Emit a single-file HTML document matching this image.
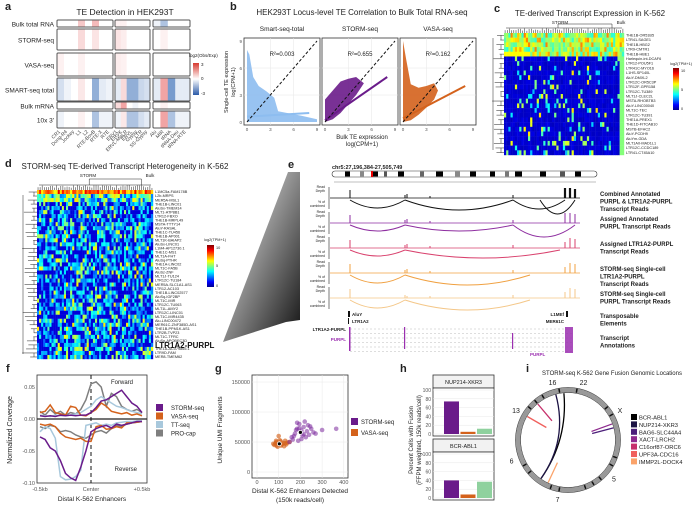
<!DOCTYPE html>
<html><head><meta charset="utf-8"><style>
body{margin:0;background:#fff}
svg{display:block;font-family:"Liberation Sans",sans-serif}
</style></head><body>
<svg id="s" width="700" height="508" viewBox="0 0 700 508" xmlns="http://www.w3.org/2000/svg">
<defs>
<linearGradient id="tri" x1="0" y1="0" x2="1" y2="1"><stop offset="0" stop-color="#fff"/><stop offset="1" stop-color="#111"/></linearGradient>
<linearGradient id="jet" x1="0" y1="1" x2="0" y2="0"><stop offset="0" stop-color="#00008f"/><stop offset=".12" stop-color="#0000ff"/><stop offset=".37" stop-color="#00ffff"/><stop offset=".62" stop-color="#ffff00"/><stop offset=".87" stop-color="#ff0000"/><stop offset="1" stop-color="#800000"/></linearGradient>
<linearGradient id="rb" x1="0" y1="1" x2="0" y2="0"><stop offset="0" stop-color="#2b5aa8"/><stop offset=".5" stop-color="#fff"/><stop offset="1" stop-color="#d73a2f"/></linearGradient>
</defs>
<g id="root"></g>
</svg>
<script>
// ---------- data arrays ----------
const aRowNames=["Bulk total RNA","STORM-seq","VASA-seq","SMART-seq total","Bulk mRNA","10x 3'"];
const aRowTop=[20,29,53,78,102,111];
const aRowBot=[27,50,76,101,109,128];
const aG1=[[0,0,0,1.2,0,1.5,0,0],[0,0,0,.8,0,.6,0,0],[.3,0,0,.3,0,0,0,0],[-.8,-.3,0,.5,0,-2,-.5,-.3],[0,0,0,0,0,0,0,0],[-.3,0,0,.3,0,-1.5,-.3,-.3]];
const aG2=[[.3,.3,0,0,0,0],[.6,.4,0,0,0,0],[.4,.3,0,0,0,0],[-.5,.8,-2,-2,-1,-.8],[.8,2,0,-.3,0,0],[-.3,.5,-1.5,-1.5,-.8,-.5]];
const aG3=[[-.3,-1.5,0,0,0],[0,.3,0,0,0],[0,0,0,0,0],[-.5,2,-2.5,-.5,-.5],[0,.3,0,0,0],[0,2,-1.5,-.3,-.3]];
const aColLabels=["CR1","Dong-R4","Jockey","L1","L2","RTE-BovB","RTE-X","RTE","ERV1","ERVK","ERVL-MaLR","ERVL","Gypsy","LTR","SS-Gypsy","Alu","MIR","tRNA","tRNA-Deu","tRNA-RTE"];
const bTitles=["Smart-seq-total","STORM-seq","VASA-seq"];
const bR2=["R²=0.003","R²=0.655","R²=0.162"];
const bSlope=[0.05,0.6,0.45];
const bInt=[0.6,0.2,0.4];
const cLabels=["THE1B-OR51B5","LTR41-SAGE1","THE1B-HBG2","LTR9-CMTR1","THE1B-HBE1","Harlequin-int-DCAF6","LTR12-POU5F1","LTR41C-MYO16","L1HS-SP140L","AluY-DMXL2","LTR12C-OR5C3P","LTR12F-GPR158","LTR12C-TU389","MLT1J-CLEC2L","MSTA-RHOBTB3","AluY-LINC00040","MLT1C-TEC","LTR12C-TU391","THE1A-PREX1","THE1D-FITCAB10","MSTB-EFHC2","AluY-PCDH9","AluYm-GDA","MLT1A0-MAD1L1","LTR12C-CCDC189","LTR41-CT45A10"];
const dLabels=["L1MC5a-FAM178B","L2b-MRPS","MER5A-MSL1","THE1B-LINC01","AluSx-TMEM14","MLT1-ATP8B1","LTR12-FBXO","THE1B-MRPL49","MSTA-TTTY14","AluY-RASAL","THE1C-TU456","THE1B-AP001","MLT1K-BAIAP2","AluSx-LINC01","L1M4-AP12730.1","THE1C-MS1","MLT1A-FHT","AluSq-PTHR","THE1A-LINC02","MLT1C-FA5B","AluSz-ZNF","MLT1J-TU124","LTR12C-TU184","MER5A-SLC1A1-AS1","LTR12-AC103","THE1B-LINC02577","AluSq-IGF2BP","MLT1C-MIR","LTR12C-TU063","MLT1L-AMY2","LTR12C-LINC01","MLT1C-MIR4435","Alu-LINC00472","MER61C-ZNF385D-AS1","THE1B-PPM1K-AS1","LTR2B-TVP23","MLT1C-TFRC","AluSp-APOBEC3D","LTR1A2-PURPL","THE1A-AC079865.1","LTR9D-FAM","MER8-TMEM62"];
const fX=[-.5,-.45,-.4,-.35,-.3,-.25,-.2,-.15,-.1,-.05,0,.05,.1,.15,.2,.25,.3,.35,.4,.45,.5];
const fStormF=[.005,.004,.005,.004,.006,.005,.006,.005,.006,.006,.01,.018,.028,.03,.035,.04,.045,.035,.025,.02,.01];
const fVasaF=[.01,.012,.022,.01,.008,.006,.02,.018,.006,.005,.01,.015,.025,.02,.012,.01,.008,.01,.006,.008,.005];
const fTTF=[.006,.005,.004,.006,.005,.005,.006,.008,.01,.015,.02,.03,.035,.03,.025,.02,.018,.015,.012,.01,.008];
const fProF=[.012,.006,.015,.008,.012,.006,.01,.008,.015,.03,.055,.058,.05,.02,.04,.035,.02,.015,.012,.015,.01];
const fStormR=[-.028,-.032,-.045,-.05,-.065,-.085,-.092,-.096,-.075,-.05,-.02,-.015,-.012,-.01,-.014,-.008,-.01,-.008,-.006,-.004,-.004];
const fVasaR=[-.008,-.01,-.008,-.012,-.022,-.028,-.03,-.032,-.03,-.035,-.035,-.012,-.01,-.016,-.015,-.012,-.014,-.006,-.006,-.005,-.004];
const fTTR=[-.02,-.012,-.015,-.03,-.09,-.095,-.094,-.09,-.08,-.01,-.008,-.006,-.01,-.008,-.01,-.006,-.005,-.004,-.004,-.003,-.003];
const fProR=[-.012,-.015,-.01,-.012,-.02,-.018,-.02,-.025,-.028,-.03,-.025,-.02,-.018,-.022,-.015,-.01,-.012,-.008,-.006,-.005,-.004];
const gStormX=[200,170,185,215,230,240,195,205,160,180,250,220,175,190,210,235,260,165,300,365,225,245,185,205,215,195,150,270];
const gStormY=[66000,60000,72000,75000,68000,62000,80000,55000,58000,70000,72000,84000,64000,52000,61000,78000,66000,54000,70000,72000,58000,76000,82000,69000,63000,73000,50000,64000];
const gVasaX=[100,80,90,110,120,130,95,105,85,115,140,75,125,100,90,110,135,150,88,130];
const gVasaY=[47000,45000,50000,44000,48000,52000,42000,53000,48000,46000,49000,47000,43000,60000,44000,51000,46000,50000,52000,48000];
const gMean=[[200,66000],[103,47000]];
const hCats=["STORM-seq","VASA-seq","TT-seq"];
const hNup=[74,5,12];
const hBcr=[40,8,37];
const iNames=["BCR-ABL1","NUP214-XKR3","BAG6-SLC44A4","XACT-LRCH2","C16orf87-ORC6","UPF3A-CDC16","IMMP2L-DOCK4"];
const iCols=["#000000","#1c1344","#4b1f7a","#8e2a8e","#c6306b","#f0605d","#fba36a"];
const iA1=[-5,-15,75,70,-40,-60,205];
const iA2=[215,215,60,100,-20,-25,190];

// ---------- helpers ----------
const NS="http://www.w3.org/2000/svg";
const root=document.getElementById('root');
function mk(tag,attrs,parent){const e=document.createElementNS(NS,tag);for(const k in attrs)e.setAttribute(k,attrs[k]);(parent||root).appendChild(e);return e;}
function txt(x,y,s,size,opts){const o=Object.assign({x:x,y:y,'font-size':size,fill:'#222'},opts||{});const e=mk('text',o);e.textContent=s;return e;}
function jet(v){v=Math.max(0,Math.min(1,v));const st=[[0,0,0,143],[.12,0,0,255],[.37,0,255,255],[.62,255,255,0],[.87,255,0,0],[1,128,0,0]];for(let i=1;i<st.length;i++){if(v<=st[i][0]){const a=st[i-1],b=st[i],t=(v-a[0])/(b[0]-a[0]);return `rgb(${Math.round(a[1]+t*(b[1]-a[1]))},${Math.round(a[2]+t*(b[2]-a[2]))},${Math.round(a[3]+t*(b[3]-a[3]))})`;}}}
function rb(v){const t=Math.max(-1,Math.min(1,v/3.5));if(t>=0){return `rgb(${Math.round(255-t*25)},${Math.round(255-t*160)},${Math.round(255-t*160)})`;}const u=-t;return `rgb(${Math.round(255-u*190)},${Math.round(255-u*140)},${Math.round(255-u*70)})`;}
function hash(a,b,s){let h=(a*374761393+b*668265263+s*982451653)|0;h=(h^(h>>>13))*1274126177|0;return ((h^(h>>>16))>>>0)/4294967295;}

// ---------- panel labels ----------
[["a",5,10],["b",230,10],["c",494,12],["d",5,167],["e",288,168],["f",6,372],["g",215,372],["h",400,372],["i",526,372]].forEach(p=>{const t=txt(p[1],p[2],p[0],11,{'font-weight':'bold'});});

// ---------- panel a ----------
let t=txt(125,15,"TE Detection in HEK293T",8.5,{'text-anchor':'middle'});
const aGroups=[[aG1,57,113],[aG2,115,150],[aG3,153,190]];
aRowNames.forEach((n,r)=>{
  const lab=txt(54,(aRowTop[r]+aRowBot[r])/2+3,n,6.5,{'text-anchor':'end'});
  
  aGroups.forEach((g,gi)=>{
    const vals=g[0][r];const w=(g[2]-g[1])/vals.length;
    vals.forEach((v,c)=>{const e=mk('rect',{x:g[1]+c*w,y:aRowTop[r],width:w+.3,height:aRowBot[r]-aRowTop[r],fill:rb(v)});});
    const b=mk('rect',{x:g[1],y:aRowTop[r],width:g[2]-g[1],height:aRowBot[r]-aRowTop[r],fill:'none',stroke:'#555','stroke-width':1,rx:1});
  });
});
aColLabels.forEach((n,i)=>{const xs=[57,113,115,150,153,190];const gi=i<8?0:(i<15?1:2);const cnt=[8,7,5][gi];const idx=i-[0,8,15][gi];const x=xs[gi*2]+(idx+.5)*(xs[gi*2+1]-xs[gi*2])/cnt;
 const e=txt(x,132,n,5,{'text-anchor':'end',transform:`rotate(-45 ${x} 132)`,fill:'#444'});});
mk('rect',{x:193,y:63,width:6,height:32,fill:'url(#rb)'});
txt(189,57,"log2(Obs/Exp)",4.5,{});txt(201,66,"3",4.5,{});txt(201,80,"0",4.5,{});txt(201,95,"-3",4.5,{});

// ---------- panel b ----------
t=txt(362,15,"HEK293T Locus-level TE Correlation to Bulk Total RNA-seq",8,{'text-anchor':'middle'});
const bCols=["#8dbdf0","#6a1b8a","#d4621c"];
const bX0=[244,322,400];
for(let p=0;p<3;p++){
  const X0=bX0[p],W=76,Y0=38,H=87;
  const xs=v=>X0+3+v*(W-6)/9, ys=v=>Y0+H-3-v*(H-6)/9;
  txt(X0+W/2,31,bTitles[p],6.5,{'text-anchor':'middle'});
  mk('rect',{x:X0,y:Y0,width:W,height:H,fill:'#fff',stroke:'#333','stroke-width':.8});
  [3,6].forEach(v=>{mk('line',{x1:xs(v),x2:xs(v),y1:Y0,y2:Y0+H,stroke:'#e6e6e6','stroke-width':.5});mk('line',{x1:X0,x2:X0+W,y1:ys(v),y2:ys(v),stroke:'#e6e6e6','stroke-width':.5});});
  let pts;
  if(p===0) pts=[[0,0],[0,8],[.3,7.5],[.8,5],[1.5,4],[2.5,3.4],[3.5,2.7],[4,1.2],[7,.7],[9,.3],[9,0]];
  else if(p===1) pts=[[0,0],[0,2.5],[1,3.5],[2,4.5],[3,4.8],[4,5],[5,4.3],[4,3],[3,2],[2,1],[1,.3]];
  else pts=[[0,0],[0,9],[.4,7],[1,4.2],[2,3.8],[3,4],[4,4.3],[4.5,3.5],[4,2.5],[3,1.6],[2,.8],[1,.2]];
  const cl=mk('polygon',{points:pts.map(q=>xs(q[0])+','+ys(q[1])).join(' '),fill:bCols[p],opacity:.9});
  const ln=mk('line',{x1:xs(0),y1:ys(bInt[p]),x2:xs(8),y2:ys(bInt[p]+8*bSlope[p]),stroke:bCols[p],'stroke-width':2});
  mk('line',{x1:xs(0),y1:ys(0),x2:xs(9),y2:ys(9),stroke:'#111','stroke-width':1,'stroke-dasharray':'3,2'});
  txt(X0+W/2,Y0+18,bR2[p],6,{'text-anchor':'middle'});
  [0,3,6,9].forEach(v=>txt(xs(v),Y0+H+6,String(v),4.5,{'text-anchor':'middle',fill:'#555'}));
  if(p===0)[0,3,6,9].forEach(v=>txt(X0-2,ys(v)+2,String(v),4.5,{'text-anchor':'end',fill:'#555'}));
}
txt(228,82,"Single-cell TE expression",5.5,{'text-anchor':'middle',transform:'rotate(-90 228 82)'});
txt(235,82,"log(CPM+1)",5.5,{'text-anchor':'middle',transform:'rotate(-90 235 82)'});
txt(362,139,"Bulk TE expression",6,{'text-anchor':'middle'});txt(362,146,"log(CPM+1)",6,{'text-anchor':'middle'});

// ---------- heatmap helper ----------
function heat(x0,y0,w,h,nr,nc,fn,name){
  const cw=w/nc,rh=h/nr;
  for(let r=0;r<nr;r++)for(let c=0;c<nc;c++){const e=mk('rect',{x:x0+c*cw,y:y0+r*rh,width:cw+.2,height:rh+.2,fill:jet(fn(r,c))});}
}
function dendroLeft(x0,x1,y0,h,n){const rh=h/n;let d='';for(let r=0;r<n;r++){const y=y0+(r+.5)*rh;d+=`M${x1},${y}H${x1-3-hash(r,1,3)*(x1-x0-3)}`;}for(let r=0;r<n-1;r+=2){const y=y0+(r+.5)*rh;d+=`M${x1-3},${y}V${y+rh}`;}d+=`M${x0+1},${y0+5}V${y0+h-5}`;mk('path',{d:d,stroke:'#222','stroke-width':.5,fill:'none'});}
function dendroTop(x0,y0,w,y1,n){const cw=w/n;let d='';for(let c=0;c<n;c++){const x=x0+(c+.5)*cw;d+=`M${x},${y1}V${y1-2-hash(c,2,5)*3}`;}d+=`M${x0+2},${y1-5}H${x0+w-2}M${x0+w*.45},${y1-5}V${y0}H${x0+w*.9}V${y1-5}`;mk('path',{d:d,stroke:'#222','stroke-width':.5,fill:'none'});}

// ---------- panel c ----------
t=txt(590,16,"TE-derived Transcript Expression in K-562",8,{'text-anchor':'middle'});
txt(560,24,"STORM",4.5,{'text-anchor':'middle'});txt(621,24,"Bulk",4.5,{'text-anchor':'middle'});
dendroTop(504,24,120,33,55);
dendroLeft(492,504,33,122,26);
heat(504,33,120,122,26,55,(r,c)=>{const hv=hash(r,c,7);if(r<5){return r===4&&c<12?.62:(hv<.5?.5+hv*.5:.25+hv*.3);}if(c>52)return .5;return hv<.87?0.05+hv*.05:.3+hash(c,r,9)*.35;},'c-heat');
cLabels.forEach((n,i)=>{const e=txt(626,33+(i+.75)*122/26,n,3.8,{});});
mk('rect',{x:673,y:68,width:6,height:42,fill:'url(#jet)'});txt(670,65,"log2(TPM+1)",3.8,{});txt(681,72,"10",3.8,{});txt(681,91,"5",3.8,{});txt(681,110,"0",3.8,{});

// ---------- panel d ----------
t=txt(125,169,"STORM-seq TE-derived Transcript Heterogeneity in K-562",8,{'text-anchor':'middle'});
txt(88,177,"STORM",4.5,{'text-anchor':'middle'});txt(150,177,"Bulk",4.5,{'text-anchor':'middle'});
dendroTop(37,179,116,190,56);
dendroLeft(22,37,190,169,42);
heat(37,190,116,169,42,56,(r,c)=>{const hv=hash(r,c,11);if(r===0)return hv<.5?.75+hv*.3:.45+hv*.3;if(r<3)return .15+hv*.5;return hv<.4?.08:(hv<.85?.2+hash(c,r,2)*.2:.45+hash(r,c,4)*.2);},'d-heat');
dLabels.forEach((n,i)=>{const big=n==="LTR1A2-PURPL";const e=txt(155,190+(i+.8)*169/42+(big?2:0),n,big?8:3.8,big?{'font-weight':'bold',fill:'#111'}:{});});
mk('rect',{x:207,y:245,width:7,height:42,fill:'url(#jet)'});txt(204,241,"log2(TPM+1)",3.8,{});txt(216,249,"10",3.8,{});txt(216,267,"5",3.8,{});txt(216,287,"0",3.8,{});
mk('polygon',{points:'223,342 288,172 300,172 300,320 286,322',fill:'url(#tri)'});

// ---------- panel e ----------
txt(332,169,"chr5:27,196,384-27,505,749",5.5,{'font-weight':'bold'});
mk('rect',{x:332,y:171,width:265,height:6,rx:3,fill:'#fff',stroke:'#333','stroke-width':.6});
[[345,5,'#000'],[360,4,'#888'],[372,6,'#000'],[384,3,'#555'],[398,6,'#000'],[420,4,'#666'],[436,7,'#000'],[455,5,'#888'],[470,6,'#000'],[490,5,'#000'],[505,4,'#777'],[515,7,'#000'],[540,6,'#000'],[560,5,'#555'],[575,6,'#000']].forEach(b=>mk('rect',{x:b[0],y:171.5,width:b[1],height:5,fill:b[2]}));
mk('rect',{x:371,y:171,width:2,height:6,fill:'#e00'});
mk('line',{x1:334,x2:596,y1:182,y2:182,stroke:'#aaa','stroke-width':.8});
const eCols=["#111","#8e2ea0","#d9426e","#f0a040","#f4c789"];
const eBase=[198,223,248,273,298];
const eLabels=[["Combined Annotated","PURPL & LTR1A2-PURPL","Transcript Reads"],["Assigned Annotated","PURPL Transcript Reads"],["Assigned LTR1A2-PURPL","Transcript Reads"],["STORM-seq Single-cell","LTR1A2-PURPL","Transcript Reads"],["STORM-seq Single-cell","PURPL Transcript Reads"]];
eBase.forEach((y,i)=>{
  const c=eCols[i];
  txt(325,y-10,"Read",3.5,{'text-anchor':'end'});txt(325,y-6,"Depth",3.5,{'text-anchor':'end'});
  txt(325,y+5,"% of",3.5,{'text-anchor':'end'});txt(325,y+9,"combined",3.5,{'text-anchor':'end'});
  mk('line',{x1:329,x2:329,y1:y-11,y2:y+11,stroke:'#222','stroke-width':.6});
  mk('line',{x1:330,x2:580,y1:y,y2:y,stroke:c,'stroke-width':.8});
  [[350,i<3?8:9],[405,3],[407,i===4?2:4],[430,2],[513,3],[565,i<2?10:6],[570,10],[575,9]].forEach(s=>mk('line',{x1:s[0],x2:s[0],y1:y,y2:y-s[1],stroke:c,'stroke-width':i===0&&s[0]>560?2.2:1}));
  const arcs=i===0?[[350,405,8],[405,513,10],[513,565,9],[540,575,14]]:i===1?[[350,405,6],[405,513,6],[513,575,12]]:i===2?[[350,405,6],[405,560,8]]:[[350,405,8],[405,530,10]];
  arcs.forEach(a=>mk('path',{d:`M${a[0]},${y+2}Q${(a[0]+a[1])/2},${y+2+a[2]*2} ${a[1]},${y+2}`,fill:'none',stroke:c,'stroke-width':1}));
  eLabels[i].forEach((l,k)=>txt(600,y-2+k*7.5,l,6,{'font-weight':'bold'}));
});
txt(600,318,"Transposable",6,{'font-weight':'bold'});txt(600,325.5,"Elements",6,{'font-weight':'bold'});
txt(600,340,"Transcript",6,{'font-weight':'bold'});txt(600,347.5,"Annotations",6,{'font-weight':'bold'});
mk('rect',{x:348,y:311,width:2,height:6,fill:'#111'});txt(352,316,"AluY",4.5,{'font-weight':'bold'});
mk('rect',{x:348,y:318,width:1,height:6,fill:'#111'});txt(352,323,"LTR1A2",4.5,{'font-weight':'bold'});
mk('rect',{x:566,y:311,width:2,height:6,fill:'#111'});txt(564,316,"L1MEf",4.5,{'font-weight':'bold','text-anchor':'end'});
txt(564,323,"MER61C",4.5,{'font-weight':'bold','text-anchor':'end'});
txt(346,331,"LTR1A2-PURPL",4.5,{'font-weight':'bold','text-anchor':'end'});
txt(346,341,"PURPL",4.5,{'font-weight':'bold','text-anchor':'end',fill:'#9b2fb0'});
for(let k=0;k<6;k++){mk('line',{x1:350,x2:573,y1:329+k*4.5,y2:329+k*4.5,stroke:'#bbb','stroke-width':.5,'stroke-dasharray':'2,2'});}
mk('rect',{x:349,y:327,width:1.5,height:24,fill:'#9b2fb0'});mk('rect',{x:404,y:327,width:1.2,height:22,fill:'#9b2fb0'});mk('rect',{x:512,y:333,width:1.2,height:16,fill:'#9b2fb0'});
mk('rect',{x:565,y:327,width:8,height:26,fill:'#9b2fb0',opacity:.85});
txt(530,356,"PURPL",4.5,{'font-weight':'bold',fill:'#9b2fb0'});

// ---------- panel f ----------
const fxs=v=>40+(v+.5)*102, fys=v=>419-v*640;
mk('rect',{x:37,y:375,width:110,height:108,fill:'#fff',stroke:'#333','stroke-width':.8});
mk('line',{x1:37,x2:147,y1:fys(0),y2:fys(0),stroke:'#222','stroke-width':1.2});
mk('line',{x1:fxs(0),x2:fxs(0),y1:375,y2:483,stroke:'#111','stroke-width':1,'stroke-dasharray':'4,3'});
const fSeries=[[fProF,fProR,'#7f7f7f','pro-cap'],[fTTF,fTTR,'#a8c8dc','tt-seq'],[fVasaF,fVasaR,'#d4621c','vasa-seq'],[fStormF,fStormR,'#6a1b8a','storm-seq']];
fSeries.forEach(s=>{[s[0],s[1]].forEach((arr,k)=>{const e=mk('polyline',{points:arr.map((v,i)=>fxs(fX[i])+','+fys(v)).join(' '),fill:'none',stroke:s[2],'stroke-width':1.5});});});
[[.05,"0.05"],[0,"0.00"],[-.05,"-0.05"],[-.1,"-0.10"]].forEach(v=>txt(35,fys(v[0])+2,v[1],5.5,{'text-anchor':'end',fill:'#555'}));
[[-.5,"-0.5kb"],[0,"Center"],[.5,"+0.5kb"]].forEach(v=>txt(fxs(v[0]),491,v[1],5.5,{'text-anchor':'middle',fill:'#555'}));
txt(92,501,"Distal K-562 Enhancers",6.5,{'text-anchor':'middle'});
txt(12,430,"Normalized Coverage",7,{'text-anchor':'middle',transform:'rotate(-90 12 430)'});
txt(133,384,"Forward",6,{'text-anchor':'end'});txt(137,471,"Reverse",6,{'text-anchor':'end'});
[["STORM-seq",'#6a1b8a'],["VASA-seq",'#d4621c'],["TT-seq",'#a8c8dc'],["PRO-cap",'#7f7f7f']].forEach((l,i)=>{const y=404+i*8.5;const r=mk('rect',{x:156,y:y,width:7,height:7,fill:l[1]});txt(171,y+6,l[0],6,{});});

// ---------- panel g ----------
const gxs=v=>257+v*0.217, gys=v=>472-v*0.0006;
mk('rect',{x:252,y:375,width:96,height:103,fill:'#fff',stroke:'#333','stroke-width':.8});
[0,100,200,300,400].forEach(v=>{mk('line',{x1:gxs(v),x2:gxs(v),y1:375,y2:478,stroke:'#e8e8e8','stroke-width':.5});txt(gxs(v),484,String(v),5.5,{'text-anchor':'middle',fill:'#555'});});
[0,50000,100000,150000].forEach(v=>{mk('line',{x1:252,x2:348,y1:gys(v),y2:gys(v),stroke:'#e8e8e8','stroke-width':.5});txt(250,gys(v)+2,String(v),5.5,{'text-anchor':'end',fill:'#555'});});
gVasaX.forEach((x,i)=>{const c=mk('circle',{cx:gxs(x),cy:gys(gVasaY[i]),r:2.3,fill:'#d4621c',opacity:.65});});
gStormX.forEach((x,i)=>{const c=mk('circle',{cx:gxs(x),cy:gys(gStormY[i]),r:2.3,fill:'#7b2a9c',opacity:.55});});
gMean.forEach(m=>{mk('circle',{cx:gxs(m[0]),cy:gys(m[1]),r:2,fill:'#000',stroke:'#fff','stroke-width':.8});});
txt(300,493,"Distal K-562 Enhancers Detected",6.5,{'text-anchor':'middle'});txt(300,502,"(150k reads/cell)",6.5,{'text-anchor':'middle'});
txt(222,430,"Unique UMI Fragments",6.5,{'text-anchor':'middle',transform:'rotate(-90 222 430)'});
[["STORM-seq",'#6a1b8a'],["VASA-seq",'#d4621c']].forEach((l,i)=>{const y=418+i*11;mk('rect',{x:351,y:y,width:7,height:7,fill:l[1]});txt(361,y+6,l[0],6,{});});

// ---------- panel h ----------
const hCol=['#6a1b8a','#d4621c','#8fd19e'];
function hFacet(top,title,vals){
  const py0=top+13,py1=py0+46;const ys=v=>py1-v*(py1-py0-2)/100;
  mk('rect',{x:433,y:top,width:61,height:13,fill:'#f2f2f2',stroke:'#333','stroke-width':.8});
  txt(463.5,top+9,title,5.5,{'text-anchor':'middle'});
  mk('rect',{x:433,y:py0,width:61,height:py1-py0+2,fill:'#fff',stroke:'#333','stroke-width':.8});
  [0,20,40,60,80,100].forEach(v=>{mk('line',{x1:433,x2:494,y1:ys(v),y2:ys(v),stroke:'#e8e8e8','stroke-width':.5});txt(431,ys(v)+2,String(v),5,{'text-anchor':'end',fill:'#555'});});
  vals.forEach((v,i)=>{const b=mk('rect',{x:444+i*16.5,y:ys(v),width:15,height:ys(0)-ys(v),fill:hCol[i]});});
}
hFacet(375,"NUP214-XKR3",hNup);
hFacet(439,"BCR-ABL1",hBcr);
txt(413,440,"Percent Cells with Fusion",6,{'text-anchor':'middle',transform:'rotate(-90 413 440)'});
txt(421,440,"(FFPM weighted, 150k reads/cell)",6,{'text-anchor':'middle',transform:'rotate(-90 421 440)'});

// ---------- panel i ----------
txt(612,375,"STORM-seq K-562 Gene Fusion Genomic Locations",6,{'text-anchor':'middle'});
const cx=568,cy=440,R=50;
mk('circle',{cx:cx,cy:cy,r:R,fill:'none',stroke:'#999','stroke-width':5});
mk('circle',{cx:cx,cy:cy,r:R+2.6,fill:'none',stroke:'#333','stroke-width':.5});
mk('circle',{cx:cx,cy:cy,r:R-2.6,fill:'none',stroke:'#333','stroke-width':.5});
for(let k=0;k<36;k++){if(hash(k,3,1)<.5)continue;const a=k*10*Math.PI/180;mk('line',{x1:cx+(R-2)*Math.sin(a),y1:cy-(R-2)*Math.cos(a),x2:cx+(R+2)*Math.sin(a),y2:cy-(R+2)*Math.cos(a),stroke:'#111','stroke-width':1.5});}
[["22",15],["X",60],["5",130],["7",190],["6",250],["13",300],["16",345]].forEach(l=>{const a=l[1]*Math.PI/180;txt(cx+(R+10)*Math.sin(a),cy-(R+10)*Math.cos(a)+3,l[0],7,{'text-anchor':'middle'});});
iNames.forEach((n,i)=>{
  const a1=iA1[i]*Math.PI/180,a2=iA2[i]*Math.PI/180;
  const p1=[cx+(R-3)*Math.sin(a1),cy-(R-3)*Math.cos(a1)];
  const p2=[cx+(R-3)*Math.sin(a2),cy-(R-3)*Math.cos(a2)];
  let d;
  if(Math.abs(iA1[i]-iA2[i])<40){d=`M${p1[0]},${p1[1]}L${cx+(R-25)*Math.sin(a1)},${cy-(R-25)*Math.cos(a1)}`;}
  else d=`M${p1[0]},${p1[1]}Q${cx},${cy} ${p2[0]},${p2[1]}`;
  const e=mk('path',{d:d,fill:'none',stroke:iCols[i],'stroke-width':1.3});
  const y=414+i*7.4;const r=mk('rect',{x:631,y:y,width:6,height:6,fill:iCols[i]});
  txt(639,y+5.5,n,5.8,{});
});
</script>
</body></html>
